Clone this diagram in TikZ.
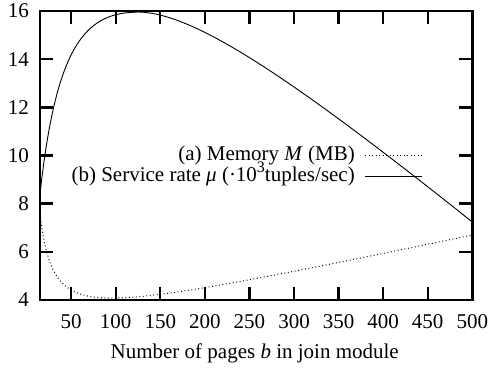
\documentclass[tikz,border=0pt]{standalone}
\usepackage{fontspec}
\setmainfont{Liberation Serif}
\newcommand{\supthree}{\raisebox{0.42em}{\fontsize{16}{16}\selectfont 3}}
\begin{document}
\begin{tikzpicture}[x=1pt,y=1pt,
  frameline/.style={line width=2.4pt},
  ticklabel/.style={inner sep=0pt, font=\fontsize{21}{24}\selectfont},
  keylabel/.style={inner sep=0pt, anchor=base east, text height=14pt, text depth=4pt,
    font=\fontsize{21}{24}\selectfont},
  ratecurve/.style={line width=0.9pt, black},
  memcurve/.style={line width=1pt, black, dash pattern=on 0.9pt off 2.6pt},
]
\useasboundingbox (0,0) rectangle (492,369);
% data coordinates: b along x, value along y
\begin{scope}[shift={(26.55,-27.32)}, x=0.8915pt, y=24.08pt]
  % ticks on all four sides
  \foreach \b in {50,100,...,450} {
    \draw[frameline] (\b,4) -- ++(0,13pt);
    \draw[frameline] (\b,16) -- ++(0,-13pt);
    \node[ticklabel, anchor=base] (xt\b) at (\b,4) [yshift=-29pt] {\b};
  }
  \node[ticklabel, anchor=base] (xt500) at (500,4) [yshift=-29pt] {500};
  \foreach \v in {6,8,...,14} {
    \draw[frameline] (15.09,\v) -- ++(13pt,0);
    \draw[frameline] (500,\v) -- ++(-13pt,0);
  }
  \foreach \v in {4,6,...,16} {
    \node[ticklabel, anchor=east] (yt\v) at (15.09,\v) [xshift=-11pt] {\v};
  }
  % memory curve
  \draw[memcurve] plot[domain=15.09:500, samples=140] (\x, {73.76/\x + 0.008025*\x + 2.54});
  % service rate curve: rising branch, then falling branch
  \draw[ratecurve] plot[domain=15.09:124, samples=90] (\x, {1000/(1100/\x + 44.96 + 0.0715*\x)})
    -- plot[domain=124:500, samples=90] (\x, {15.96 - 2.255*((\x-124)/100)^2/(1+(\x-124)/141.6)});
  % frame
  \draw[frameline] (15.09,4) rectangle (500,16);
\end{scope}
% key
\node[keylabel] (keya) at (355,208.3) {(a) Memory \textit{M} (MB)};
\node[keylabel] (keyb) at (355,187.3) {(b) Service rate \textit{μ} (·10\supthree tuples/sec)};
\coordinate (ka1) at (365,213.3);
\coordinate (ka2) at (421.7,213.3);
\coordinate (kb1) at (365,192.3);
\coordinate (kb2) at (421.7,192.3);
\draw[memcurve] (ka1) -- (ka2);
\draw[ratecurve] (kb1) -- (kb2);
% axis title
\node[ticklabel, anchor=base] (xtitle) at (254.7,10) {Number of pages \textit{b} in join module};
\end{tikzpicture}
\end{document}
